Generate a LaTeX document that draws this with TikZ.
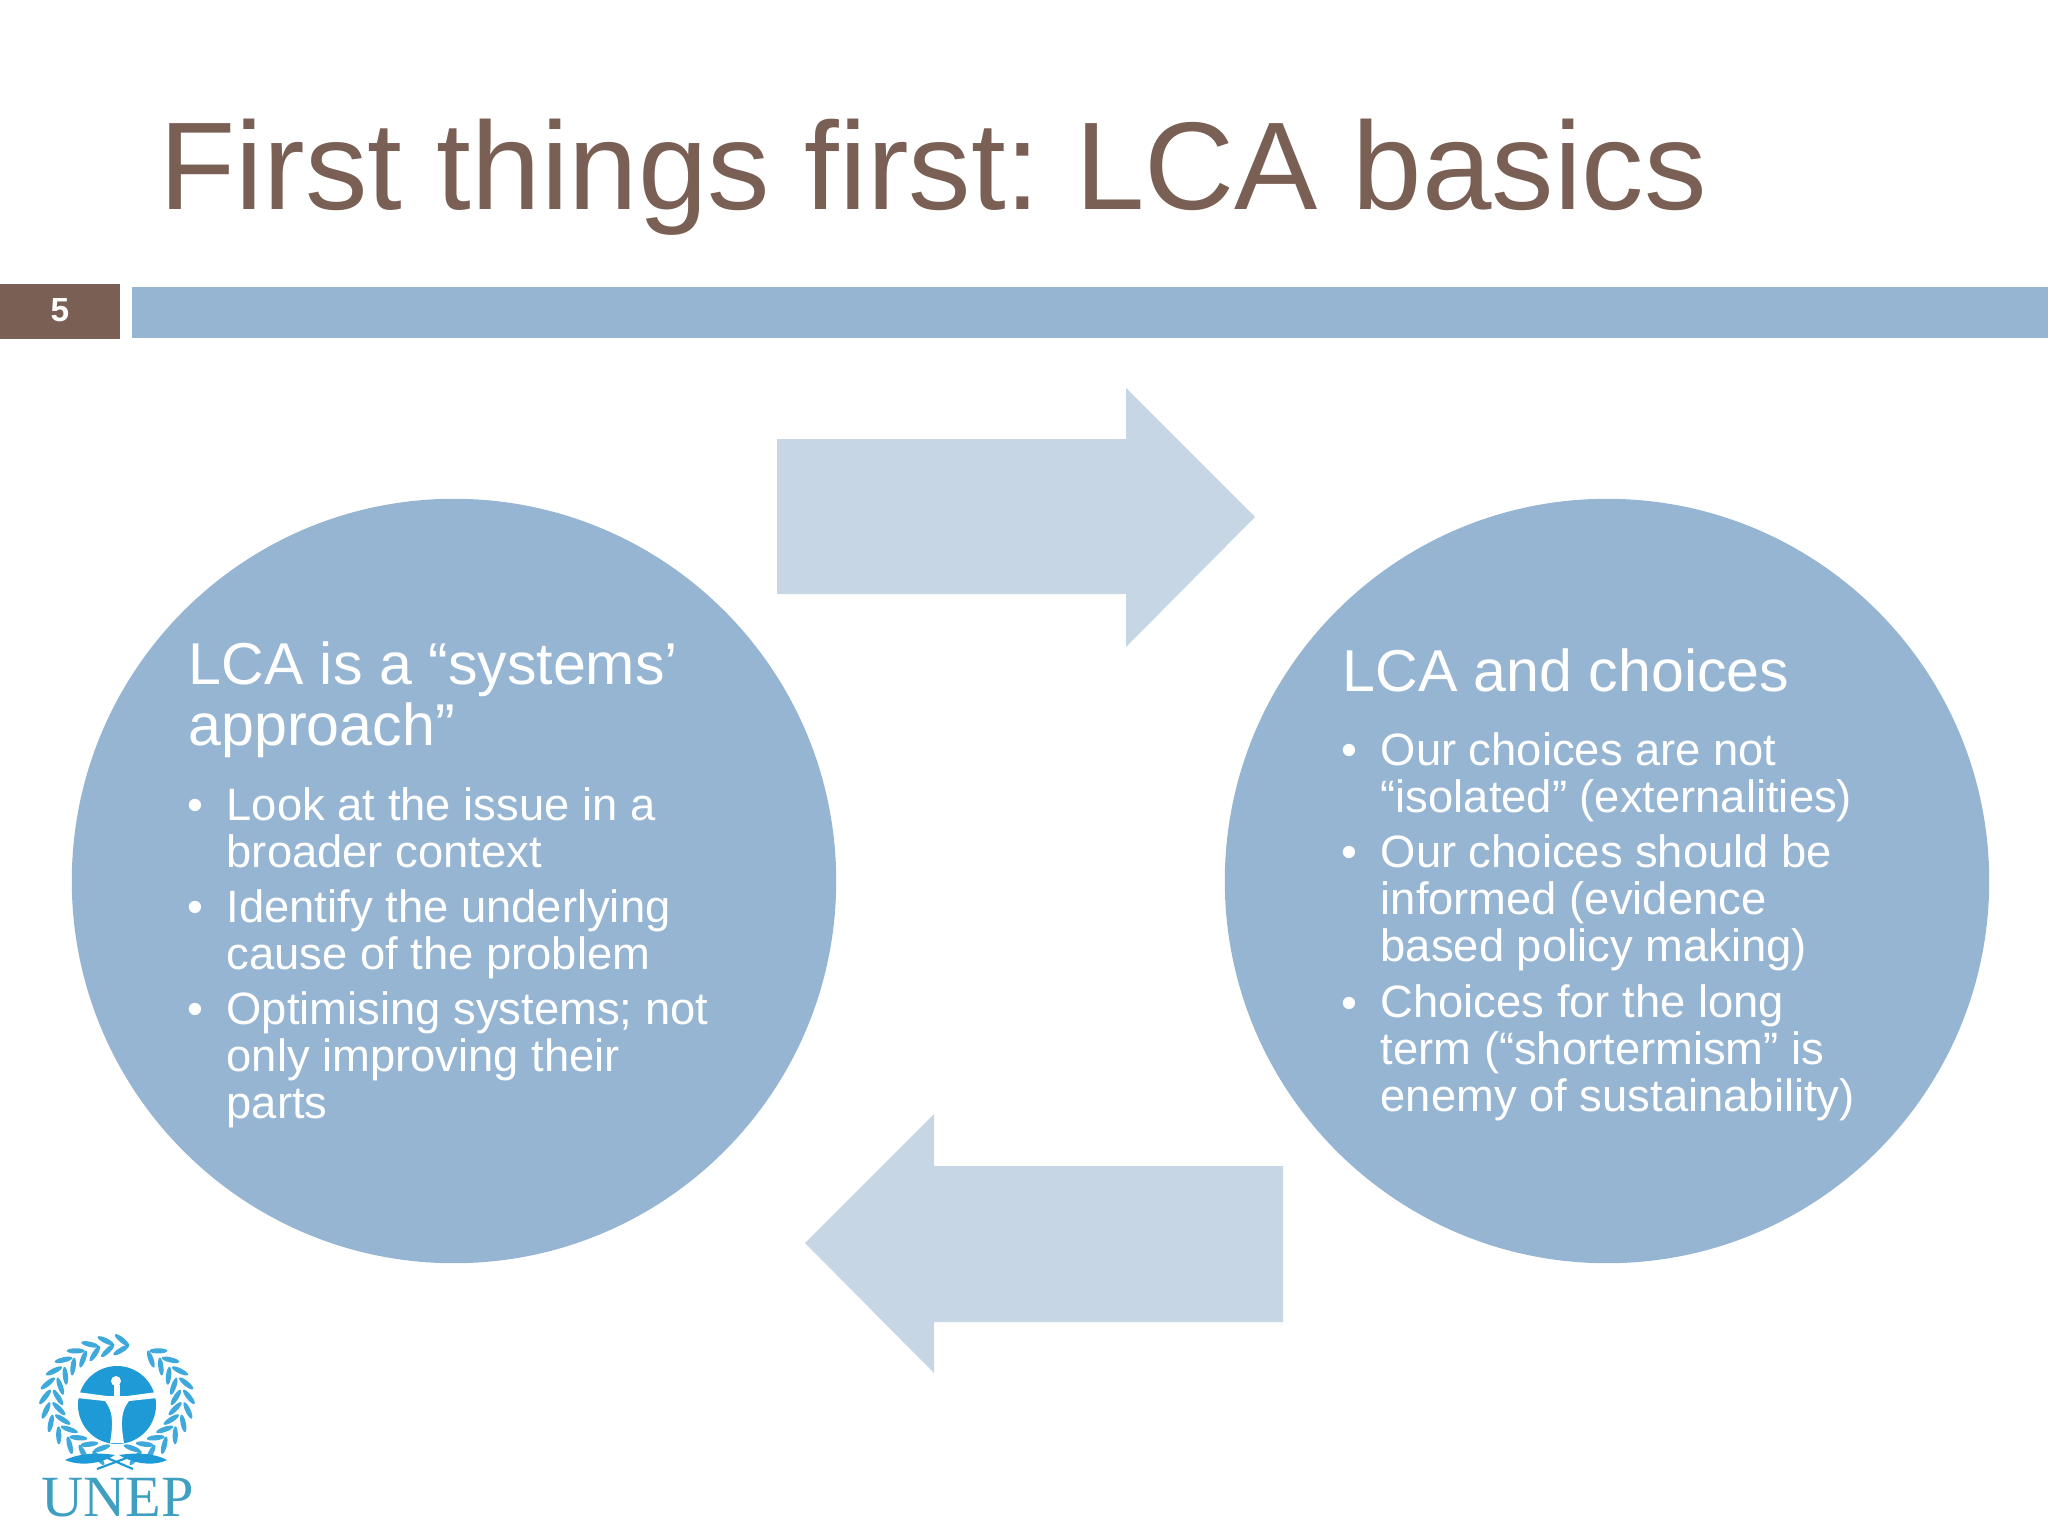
\documentclass[tikz,border=0pt]{standalone}
\usepackage{fontspec}
\setmainfont{Liberation Sans}
\newfontfamily\logofont{Liberation Serif}
\frenchspacing
\definecolor{barblue}{HTML}{96B5D2}
\definecolor{arrowblue}{HTML}{C6D6E4}
\definecolor{titlebrown}{HTML}{7A5F55}
\definecolor{unepblue}{HTML}{1E9AD6}
\definecolor{uneptext}{HTML}{3E9FC0}
\tikzset{
	headtext/.style={anchor=base west,inner sep=0pt,text=white,align=left,font=\fontsize{16.8}{17.3}\selectfont},
	itemtext/.style={anchor=base west,inner sep=0pt,text=white,align=left,font=\fontsize{12.9}{13.3}\selectfont},
	dottext/.style={anchor=base,inner sep=0pt,text=white,font=\fontsize{12.9}{13.3}\selectfont},
	bigcircle/.style={circle,fill=barblue,inner sep=0pt,minimum size=7.64cm},
	leaf/.style={fill=unepblue,opacity=0.85},
}
\begin{document}
\begin{tikzpicture}[x=0.01cm,y=-0.01cm]
	\useasboundingbox (0,0) rectangle (2048,1536);
	% title and bar
	\node[anchor=base west,inner sep=0pt,text=titlebrown,font=\fontsize{35.5}{36}\selectfont] (title) at (159,209) {First things first: LCA basics};
	\fill[titlebrown] (0,284) rectangle (120,339);
	\fill[barblue] (132,287) rectangle (2048,338);
	\node[text=white,inner sep=0pt,font=\fontsize{9.5}{10}\selectfont\bfseries] (pagenum) at (60,310) {5};
	% arrows
	\fill[arrowblue] (777,439) -- (1126,439) -- (1126,388) -- (1255,517) -- (1126,647) -- (1126,594) -- (777,594) -- cycle;
	\fill[arrowblue] (1283,1166) -- (934,1166) -- (934,1114) -- (805,1243) -- (934,1373) -- (934,1322) -- (1283,1322) -- cycle;
	% circles
	\node[bigcircle] (left) at (454,881) {};
	\node[bigcircle] (right) at (1607,881) {};
	% left text
	\node[headtext] (lefthead) at (188,745) {LCA is a “systems’\\approach”};
	\node[itemtext] (leftone) at (226,867) {Look at the issue in a\\broader context};
	\node[itemtext] (lefttwo) at (226,969) {Identify the underlying\\cause of the problem};
	\node[itemtext] (leftthree) at (226,1118) {Optimising systems; not\\only improving their\\parts};
	\foreach \y/\n in {820/a,922/b,1024/c}
		\node[dottext] (leftdot\n) at (195,\y) {•};
	% right text
	\node[headtext] (righthead) at (1342,691) {LCA and choices};
	\node[itemtext] (rightone) at (1380,812) {Our choices are not\\“isolated” (externalities)};
	\node[itemtext] (righttwo) at (1380,961) {Our choices should be\\informed (evidence\\based policy making)};
	\node[itemtext] (rightthree) at (1380,1111) {Choices for the long\\term (“shortermism” is\\enemy of sustainability)};
	\foreach \y/\n in {765/a,867/b,1018/c}
		\node[dottext] (rightdot\n) at (1349,\y) {•};
	% logo
	\begin{scope}[shift={(117,1405)}]
		\fill[unepblue] (0,0) circle[radius=39];
		\fill[white] (-40,-13) -- (-10,-9) -- (10,-9) -- (40,-13) -- (40,-7) -- (12,-4) .. controls (5,5) and (3,15) .. (7,38) -- (-7,38) .. controls (-3,15) and (-5,5) .. (-12,-4) -- (-40,-7) -- cycle;
		\fill[white] (-1,-24) circle[radius=5];
		\fill[white] (-3,-20) rectangle (3,-9);
	\end{scope}
	\begin{scope}[shift={(117,1400)}]
		\foreach \a in {105,118,...,285}{
			\fill[leaf,shift={(\a:72 and 60)},rotate={-\a-90-35}] (0,0) ellipse (9 and 2.6);
			\fill[leaf,shift={(\a:59 and 50)},rotate={-\a-90+35}] (0,0) ellipse (9 and 2.6);
		}
		\foreach \a in {75,62,...,-62}{
			\fill[leaf,shift={(\a:72 and 60)},rotate={-\a-90+35}] (0,0) ellipse (9 and 2.6);
			\fill[leaf,shift={(\a:59 and 50)},rotate={-\a-90-35}] (0,0) ellipse (9 and 2.6);
		}
	\end{scope}
	\begin{scope}[shift={(117,1405)}]
		\fill[unepblue] (-52,55) .. controls (-35,62) and (-15,58) .. (-2,50) .. controls (-15,48) and (-35,47) .. (-52,55) -- cycle;
		\fill[unepblue] (50,55) .. controls (35,62) and (15,58) .. (2,50) .. controls (15,48) and (35,47) .. (50,55) -- cycle;
		\draw[unepblue,line width=0.6pt] (-20,64) -- (12,52);
		\draw[unepblue,line width=0.6pt] (16,64) -- (-12,52);
	\end{scope}
	\node[anchor=base west,inner sep=0pt,text=uneptext,font=\logofont\fontsize{16.6}{17}\selectfont] (uneplabel) at (41,1516) {UNEP};
\end{tikzpicture}
\end{document}
